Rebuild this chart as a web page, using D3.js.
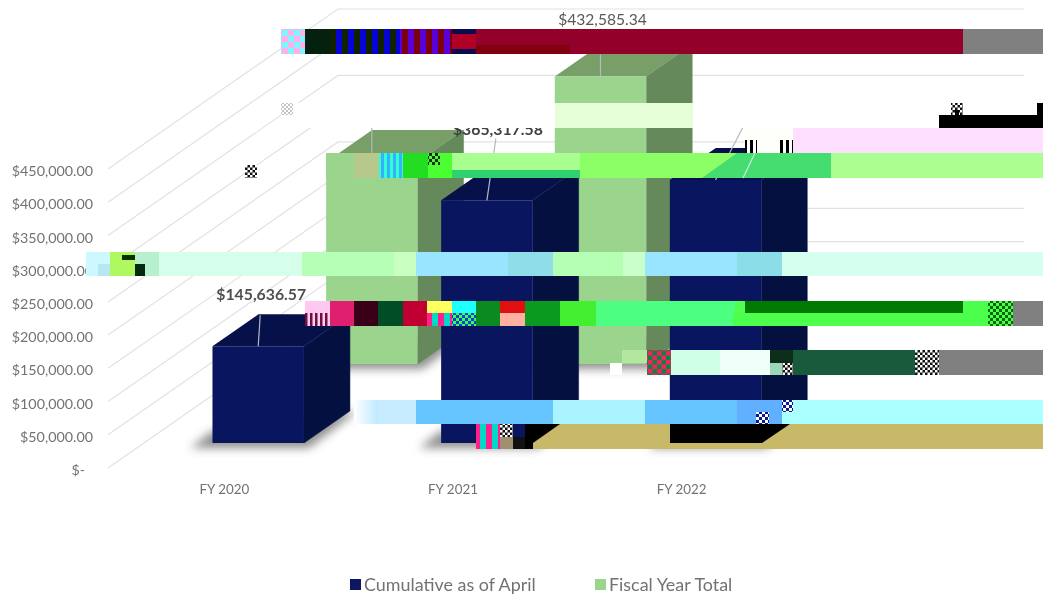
<!DOCTYPE html>
<html><head><meta charset="utf-8">
<script src="https://cdnjs.cloudflare.com/ajax/libs/d3/7.8.5/d3.min.js"></script>
<style>html,body{margin:0;background:#fff}svg{display:block}text{font-family:Lato,"Open Sans",sans-serif}</style>
</head><body><svg id="c" width="1043" height="599"></svg>
<script>
// ---- data ----
const categories = ["FY 2020","FY 2021","FY 2022"];
const cumulative = [145636.57,365317.58,396000];
const fiscalTotal = [304000,432585.34,null];
const cumulativeLabels = ["$145,636.57","$365,317.58",null];
const fiscalLabels = [null,"$432,585.34",null];
const yTicks = [0,50000,100000,150000,200000,250000,300000,350000,400000,450000];
const seriesNames = ["Cumulative as of April","Fiscal Year Total"];

// ---- scales ----
const svg = d3.select("#c");
const y = d3.scaleLinear().domain([0,450000]).range([468,169]);
const x = d3.scaleBand().domain(categories).range([108,794]).paddingInner(.6).paddingOuter(.3);
const P = (cx,v,t)=>[cx+230*t, y(v)-160*t];
const pts = a=>a.map(p=>p.join(",")).join(" ");

const defs = svg.append("defs");
const soft = defs.append("filter").attr("id","soft").attr("filterUnits","userSpaceOnUse")
  .attr("x",0).attr("y",0).attr("width",1043).attr("height",599);
soft.append("feGaussianBlur").attr("stdDeviation",5);
defs.append("filter").attr("id","t").append("feGaussianBlur").attr("stdDeviation",.45);
const fade = defs.append("linearGradient").attr("id","fadeL");
fade.append("stop").attr("offset",0).attr("stop-color","#fff");
fade.append("stop").attr("offset",1).attr("stop-color","#bfeaff");
function pat(id,a,b,w=8,h=8,kind="check"){
  const p=defs.append("pattern").attr("id",id).attr("width",w).attr("height",h).attr("patternUnits","userSpaceOnUse");
  p.append("rect").attr("width",w).attr("height",h).attr("fill",a);
  if(kind==="check"){p.append("rect").attr("width",w/2).attr("height",h/2).attr("fill",b);
    p.append("rect").attr("x",w/2).attr("y",h/2).attr("width",w/2).attr("height",h/2).attr("fill",b);}
  else p.append("rect").attr("width",w/2).attr("height",h).attr("fill",b);
}
pat("ckGreen","#4dff4d","#0a6a0a",6,6);
pat("ckDark","#111","#fff",5,5);
pat("ckPale","#fff","#c4c4c4",4,4);
pat("ckPink","#ffb0e8","#7ff6ff",12,12);
pat("stBlue","#102200","#0505d8",12,12,"stripe");
pat("stRed","#7a0010","#5a00d8",12,12,"stripe");
pat("stMag","#ffd0ee","#701040",5,12,"stripe");
pat("ckMix","#0040e0","#40ff40",6,6);
pat("ckRed","#0c8050","#ff2050",9,9);
pat("ckBlk","#4cff33","#0a2a0a",6,6);
pat("stCy","#38b0ff","#30ffd0",6,12,"stripe");
pat("stPink","#ff1f8a","#00d8c8",12,12,"stripe");
pat("ckBlue","#fff","#0a1a90",6,6);
pat("stBlack","#fff","#000",6,13,"stripe");

// ---- gridlines: side wall + back wall ----
const gridG = svg.append("g").attr("fill","none").attr("stroke","#e2e2e2").attr("stroke-width",1.2);
yTicks.forEach(v=>{
  gridG.append("polyline").attr("points",pts([P(108,v,0),P(108,v,1),P(794,v,1)]));
});

// ---- bars ----
const series = [
 {vals:fiscalTotal,t:.65,front:"#9bd58d",side:"#66895c",top:"#789f68"},
 {vals:cumulative,t:.156,front:"#0a1560",side:"#04103f",top:"#06114a"}
];
const bw = x.bandwidth(), bd = .2;
series.forEach(s=>{
  const g=svg.append("g");
  categories.forEach((c,i)=>{
    const v=s.vals[i]; if(v==null) return;
    const L=x(c), R=L+bw;
    g.append("polygon").attr("filter","url(#soft)").attr("fill","#444").attr("opacity",.6)
      .attr("points",pts([[P(L,0,s.t)[0]-22,P(L,0,s.t)[1]+5],[P(R,0,s.t)[0]+5,P(R,0,s.t)[1]+5],[P(R,0,s.t+bd)[0]+5,P(R,0,s.t+bd)[1]+2],P(R,0,s.t+bd),[P(L,0,s.t)[0],P(L,0,s.t)[1]-12]]));
    g.append("polygon").attr("fill",s.side).attr("stroke",s.side).attr("stroke-width",.5).attr("points",pts([P(R,0,s.t),P(R,0,s.t+bd),P(R,v,s.t+bd),P(R,v,s.t)]));
    g.append("polygon").attr("fill",s.top).attr("points",pts([P(L,v,s.t),P(R,v,s.t),P(R,v,s.t+bd),P(L,v,s.t+bd)]));
    g.append("polygon").attr("fill",s.front).attr("points",pts([P(L,0,s.t),P(R,0,s.t),P(R,v,s.t),P(L,v,s.t)]));
  });
});

// ---- leaders + value labels ----
const leaders = [
 {i:0,s:1,dx:2,dy:-31},{i:1,s:1,dx:9,dy:-62},{i:2,s:1,dx:27,dy:-52},{i:0,s:0,dx:0,dy:-36},{i:1,s:0,dx:0,dy:-22}
];
leaders.forEach(l=>{
  const s=series[l.s],c=categories[l.i],p=P(x(c)+bw/2,s.vals[l.i]??0,s.t);
  svg.append("line").attr("x1",p[0]).attr("y1",p[1]).attr("x2",p[0]+l.dx).attr("y2",p[1]+l.dy)
    .attr("stroke","#b4b8c4").attr("stroke-width",1.2);
});
const labelG = svg.append("g").attr("filter","url(#t)").attr("text-anchor","middle");
defs.append("clipPath").attr("id","below").append("rect").attr("x",0).attr("y",128).attr("width",1043).attr("height",471);
[[0,"#505050",294],[1,"#404040",129]].forEach(([i,col,yy])=>{
  const p=P(x(categories[i])+bw/2,0,.156);
  labelG.append("text").attr("x",p[0]+(i?11:3)).attr("y",yy).attr("dy",".35em")
    .attr("font-size",15.8).attr("font-weight",700).attr("fill",col).text(cumulativeLabels[i])
    .attr("clip-path",i?"url(#below)":null);
});
labelG.append("text").attr("x",P(x(categories[1])+bw/2,0,.65)[0]+2).attr("y",20).attr("dy",".35em")
  .attr("font-size",15.6).attr("fill","#595959").text(fiscalLabels[1]);

// ---- axes ----
const fmt = d3.format("$,.2f");
const yAxis = d3.axisLeft(y).tickValues(yTicks).tickSize(0).tickPadding(0).tickFormat(v=>v===0?"$-":fmt(v));
const ya = svg.append("g").attr("transform","translate(93,2)").attr("filter","url(#t)").call(yAxis);
ya.select(".domain").remove();
ya.selectAll("text").attr("font-size",14.3).attr("fill","#727272").style("font-family","Lato")
  .attr("x",v=>v===0?-8:0);
const xAxis = d3.axisBottom(x).tickSize(0).tickPadding(0);
const xa = svg.append("g").attr("transform","translate(2,481)").attr("filter","url(#t)").call(xAxis);
xa.select(".domain").remove();
xa.selectAll("text").attr("font-size",13.4).attr("fill","#727272").attr("dy","1.0em").style("font-family","Lato");

// ---- legend ----
const lg = svg.append("g").attr("filter","url(#t)");
[[350,364,series[1].front],[595,609,series[0].front]].forEach(([a,b,col],i)=>{
  lg.append("rect").attr("x",a).attr("y",579).attr("width",11).attr("height",11).attr("fill",col);
  lg.append("text").attr("x",b).attr("y",585).attr("dy",".35em").attr("font-size",17.9).attr("fill","#727272").text(seriesNames[i]);
});

// ---- image-corruption bands of the reference (decoration, not data): x0,x1,y0,y1,fill ----
const glitch = [
 // row 103-128 & 128-153
 [281,555,103,128,"#fff"],[693,1043,103,128,"#fff"],[555,693,103,128,"#e6ffd8"],
 [281,293,103,115,"url(#ckPale)"],[939,1043,115,128,"#000"],[951,963,103,115,"url(#ckDark)"],[955,959,110,115,"#000"],[1037,1043,103,115,"#000"],
 [745,793,128,153,"#fffffa"],[793,1043,128,153,"#ffdfff"],[745,757,140,153,"url(#stBlack)"],[780,793,140,153,"url(#stBlack)"],
 // top band
 [281,305,29,54,"url(#ckPink)"],[305,330,29,54,"#04200f"],[330,400,29,54,"url(#stBlue)"],[400,452,29,54,"url(#stRed)"],
 [452,476,29,54,"#b00028"],[452,476,29,34,"#0a0a50"],[452,476,49,54,"#0a0a50"],[476,963,29,54,"#93002a"],[476,570,45,54,"#800010"],[963,1043,29,54,"#808080"],
 // band 153-178
 [245,257,165,178,"url(#ckDark)"],[326,354,153,178,"#9bd58d"],[354,379,153,178,"#b6c98a"],[379,403,153,178,"url(#stCy)"],[403,428,153,178,"#22dd22"],[428,452,153,178,"#4cff33"],[428,440,153,165,"url(#ckBlk)"],
 [452,580,153,178,"#a8ff90"],[452,602,170,178,"#30d070"],[580,670,153,178,"#8cff66"],[670,740,153,178,"#8cff66"],[831,1043,153,178,"#abff90"],
 // band 252-276
 [86,110,252,276,"#cdf8ff"],[98,110,264,276,"#b5e8f0"],[110,135,252,276,"#b0f860"],[122,135,255,260,"#0a3000"],[135,159,252,276,"#b6f0cc"],[135,145,264,276,"#062a10"],
 [159,302,252,276,"#d5ffea"],[302,394,252,276,"#b6ffb6"],[394,416,252,276,"#c9ffc0"],[416,508,252,276,"#99e5ff"],[508,553,252,276,"#8fdde8"],
 [553,623,252,276,"#b4ffb4"],[623,645,252,276,"#caffca"],[645,737,252,276,"#99e5ff"],[737,782,252,276,"#8bdde8"],[782,1043,252,276,"#d5ffee"],
 // band 301-326
 [305,330,301,313,"#ffc8f0"],[305,330,313,326,"url(#stMag)"],[330,354,301,326,"#e0206e"],[354,378,301,326,"#3a0018"],[378,403,301,326,"#004d26"],[403,427,301,326,"#c00030"],
 [427,452,301,313,"#ffff60"],[427,452,313,326,"url(#stPink)"],[452,476,301,313,"#20ffff"],[452,476,313,326,"url(#ckMix)"],[476,500,301,326,"#0a8a20"],[500,525,301,313,"#e01010"],[500,525,313,326,"#ffb0a0"],
 [525,560,301,326,"#0a9a20"],[560,596,301,326,"#44ee30"],[596,735,301,326,"#4dff80"],[733,1043,313,326,"#4dff4d"],[735,745,301,313,"#50ff50"],[745,963,301,313,"#007a00"],[963,988,301,313,"#4dff4d"],
 [988,1013,301,326,"url(#ckGreen)"],[1013,1043,301,326,"#808080"],
 // band 350-375
 [610,622,363,375,"#fff"],[622,647,350,363,"#b5e6a0"],[647,671,350,375,"url(#ckRed)"],[671,720,350,375,"#d0ffe8"],[720,770,350,375,"#effffa"],[770,793,350,363,"#0c2e1a"],[770,782,363,375,"#9ad8b8"],[782,793,363,375,"url(#ckDark)"],
 [793,915,350,375,"#1a5a3c"],[915,939,350,375,"url(#ckDark)"],[939,1043,350,375,"#808080"],
 // band 400-424
 [354,378,400,424,"url(#fadeL)"],[378,416,400,424,"#c8ecff"],[416,553,400,424,"#66c4ff"],[553,645,400,424,"#aaf4ff"],[645,737,400,424,"#66c4ff"],[737,782,400,424,"#60b0ff"],[782,1043,400,424,"#aaffff"],
 [756,769,412,424,"url(#ckBlue)"],[782,793,400,412,"url(#ckBlue)"],
 // band 424-449
 [476,500,424,449,"url(#stPink)"],[500,513,424,437,"url(#ckDark)"],[500,525,437,449,"#a09070"],[513,525,437,449,"#111"],[525,1043,424,449,"#c8b968"],[525,533,424,449,"#000"],[670,762,424,443,"#000"]
];
const gG = svg.append("g");
gG.selectAll("rect").data(glitch).join("rect")
  .attr("x",d=>d[0]).attr("y",d=>d[2]).attr("width",d=>d[1]-d[0]).attr("height",d=>d[3]-d[2]).attr("fill",d=>d[4]);
const glitchPolys = [
 [[[702,178],[737,153],[831,153],[831,178]],"#45dc70"],
 [[[525,424],[560,424],[533,443],[525,443]],"#000"],
 [[[762,424],[790,424],[762,443]],"#000"]
];
glitchPolys.forEach(([p,c])=>gG.append("polygon").attr("points",pts(p)).attr("fill",c));
gG.append("line").attr("x1",755).attr("y1",153).attr("x2",743).attr("y2",178).attr("stroke","#cfeee0").attr("stroke-width",1.2);
</script></body></html>
